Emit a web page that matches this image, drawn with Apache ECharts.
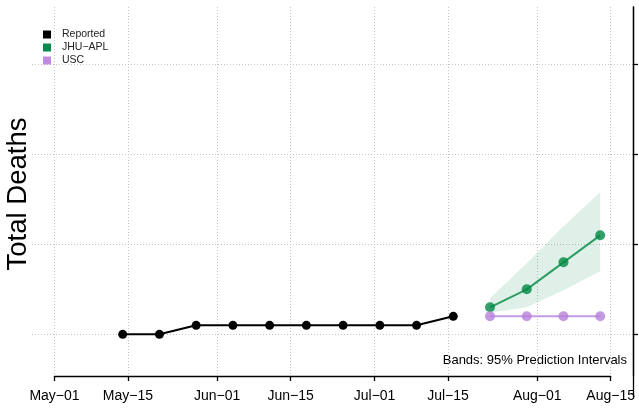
<!DOCTYPE html>
<html>
<head>
<meta charset="utf-8">
<script src="https://cdn.jsdelivr.net/npm/echarts@6/dist/echarts.min.js"></script>
<style>
  html, body { margin: 0; padding: 0; background: #fff; }
  #chart { width: 639px; height: 408px; }
</style>
</head>
<body>
<div id="chart"></div>
<script>
// data (y in deaths, dates weekly)
const reportedDates = ['2020-05-14', '2020-05-21', '2020-05-28', '2020-06-04', '2020-06-11',
  '2020-06-18', '2020-06-25', '2020-07-02', '2020-07-09', '2020-07-16']
const reportedDeaths = [10, 10, 11, 11, 11, 11, 11, 11, 11, 12]

const forecastDates = ['2020-07-23', '2020-07-30', '2020-08-06', '2020-08-13']
const jhuMedian = [13, 15, 18, 21]
const jhuLower = [12.4, 13.0, 14.9, 17.0]
const jhuUpper = [14.0, 17.9, 22.0, 25.8]
const uscMedian = [12, 12, 12, 12]

const xTickDates = ['2020-05-01', '2020-05-15', '2020-06-01', '2020-06-15',
  '2020-07-01', '2020-07-15', '2020-08-01', '2020-08-15']
const xTickLabels = ['May−01', 'May−15', 'Jun−01', 'Jun−15', 'Jul−01', 'Jul−15', 'Aug−01', 'Aug−15']
const yTicks = [10, 20, 30, 40]

const startDay = Date.parse(xTickDates[0])
const dayOf = s => (Date.parse(s) - startDay) / 86400000

const xTicks = xTickDates.map(dayOf)
const tickLabelOf = {}
xTicks.forEach((d, i) => { tickLabelOf[d] = xTickLabels[i] })

const reported = reportedDates.map((d, i) => [dayOf(d), reportedDeaths[i]])
const jhu = forecastDates.map((d, i) => [dayOf(d), jhuMedian[i]])
const usc = forecastDates.map((d, i) => [dayOf(d), uscMedian[i]])
const band = forecastDates.map((d, i) => [dayOf(d), jhuLower[i], jhuUpper[i]])

const green = 'rgba(0,136,68,0.8)'
const purple = 'rgba(184,128,220,0.8)'
const font = 'Liberation Sans'
const dotted = { show: true, lineStyle: { color: '#c4c4c4', type: [1, 2], width: 1 } }
const axisPen = { color: '#000', width: 1.3 }
// square swatch followed by empty room, so the text sits further right
const swatch = 'path://M0,0L8,0L8,8L0,8Z M14,0L14,0'

const chart = echarts.init(document.getElementById('chart'))
chart.setOption({
  animation: false,
  textStyle: { fontFamily: font },
  grid: [
    { left: 32, right: 6, top: 7, bottom: 32 },
    { left: 54.5, right: 28.3, top: 7, bottom: 11 }
  ],
  legend: {
    orient: 'vertical',
    left: 43,
    top: 29,
    padding: 0,
    itemWidth: 14,
    itemHeight: 8,
    itemGap: 2,
    icon: swatch,
    textStyle: { fontSize: 10.5, color: '#222', fontFamily: font },
    data: [
      { name: 'Reported', itemStyle: { color: '#000' } },
      { name: 'JHU−APL', itemStyle: { color: '#0a8a48' } },
      { name: 'USC', itemStyle: { color: '#c08be0' } }
    ]
  },
  xAxis: [
    {
      gridIndex: 0,
      type: 'value',
      min: -4.288,
      max: 110.25,
      axisLine: { show: false, onZero: false },
      axisTick: { show: false, customValues: xTicks },
      axisLabel: { show: false },
      splitLine: dotted
    },
    {
      gridIndex: 1,
      type: 'value',
      min: 0,
      max: 106,
      offset: -21,
      axisLine: { show: true, onZero: false, lineStyle: axisPen },
      axisTick: { show: true, customValues: xTicks, length: 5, lineStyle: axisPen },
      axisLabel: {
        customValues: xTicks,
        margin: 13,
        fontSize: 14,
        color: '#000',
        fontFamily: font,
        formatter: v => tickLabelOf[v] || ''
      },
      splitLine: { show: false }
    }
  ],
  yAxis: [
    {
      gridIndex: 0,
      type: 'value',
      position: 'right',
      min: 5.37,
      max: 46.37,
      axisLine: { show: true, onZero: false, lineStyle: axisPen },
      axisTick: { show: true, customValues: yTicks, length: 5, lineStyle: axisPen },
      axisLabel: { show: false },
      splitLine: dotted
    },
    {
      gridIndex: 1,
      type: 'value',
      position: 'right',
      offset: 22.3,
      min: 0,
      max: 1,
      axisLine: { show: true, onZero: false, lineStyle: axisPen },
      axisTick: { show: false },
      axisLabel: { show: false },
      splitLine: { show: false }
    }
  ],
  graphic: [
    {
      type: 'text',
      x: 18.5,
      y: 194,
      rotation: Math.PI / 2,
      style: {
        text: 'Total Deaths',
        font: '27.5px "Liberation Sans"',
        fill: '#000',
        align: 'center',
        verticalAlign: 'middle'
      }
    },
    {
      type: 'text',
      x: 627,
      y: 360,
      style: {
        text: 'Bands: 95% Prediction Intervals',
        font: '13px "Liberation Sans"',
        fill: '#000',
        align: 'right',
        verticalAlign: 'middle'
      }
    }
  ],
  series: [
    {
      name: 'band',
      type: 'custom',
      xAxisIndex: 0,
      yAxisIndex: 0,
      data: band,
      z: 1,
      renderItem(params, api) {
        if (params.dataIndex !== 0) return null
        const top = band.map(b => api.coord([b[0], b[2]]))
        const bottom = band.map(b => api.coord([b[0], b[1]])).reverse()
        return {
          type: 'polygon',
          shape: { points: top.concat(bottom) },
          style: { fill: 'rgba(0,136,68,0.13)' }
        }
      }
    },
    {
      name: 'Reported',
      type: 'line',
      data: reported,
      z: 3,
      symbol: 'circle',
      symbolSize: 9,
      itemStyle: { color: '#000' },
      lineStyle: { color: '#000', width: 2 }
    },
    {
      name: 'JHU−APL',
      type: 'line',
      data: jhu,
      z: 3,
      symbol: 'circle',
      symbolSize: 10,
      itemStyle: { color: green },
      lineStyle: { color: green, width: 2 }
    },
    {
      name: 'USC',
      type: 'line',
      data: usc,
      z: 3,
      symbol: 'circle',
      symbolSize: 10,
      itemStyle: { color: purple },
      lineStyle: { color: purple, width: 2 }
    }
  ]
})
</script>
</body>
</html>
